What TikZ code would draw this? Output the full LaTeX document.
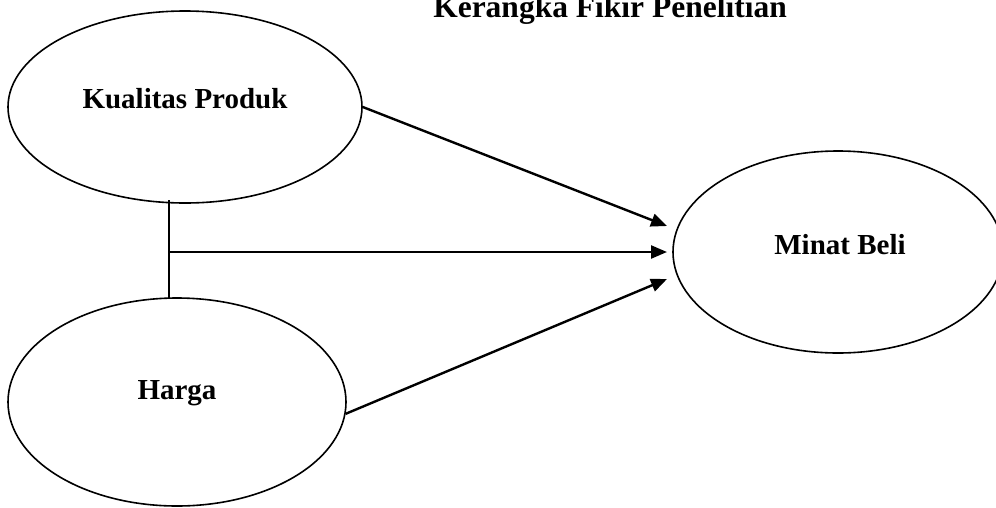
\documentclass[tikz,border=0pt]{standalone}
\usepackage{fontspec}
\setmainfont{Liberation Serif}
\usetikzlibrary{shapes.geometric,arrows.meta}
\begin{document}
\begin{tikzpicture}[x=1pt,y=-1pt,
  ell/.style={draw,ellipse,line width=1.6pt,inner sep=0pt},
  lbl/.style={font=\fontsize{29}{32}\selectfont\bfseries,inner sep=0pt},
  conn/.style={line width=2.4pt},
  arr/.style={conn,-{Triangle[length=16pt,width=13pt]}}]
\useasboundingbox (0,0) rectangle (996,507);
\node[font=\fontsize{31.5}{34}\selectfont\bfseries,inner sep=0pt,anchor=base] (title) at (610,17) {Kerangka Fikir Penelitian};
\node[ell,minimum width=354pt,minimum height=192pt] (k) at (185,107) {};
\node[ell,minimum width=338pt,minimum height=208pt] (h) at (177,402) {};
\node[ell,minimum width=330pt,minimum height=202pt] (m) at (838,252) {};
\node[lbl] (kt) at (185,99) {Kualitas Produk};
\node[lbl] (ht) at (177,393) {Harga};
\node[lbl] (mt) at (840,245) {Minat Beli};
\coordinate (v1) at (169,200);
\coordinate (v2) at (169,298);
\coordinate (vm) at (169,252);
\coordinate (t1) at (667,226);
\coordinate (t2) at (667,252);
\coordinate (t3) at (667,279);
\draw[line width=1.6pt] (v1) -- (v2);
\draw[arr] (vm) -- (t2);
\draw[arr] (k.east) -- (t1);
\draw[arr] (h.-4) -- (t3);
\end{tikzpicture}
\end{document}
